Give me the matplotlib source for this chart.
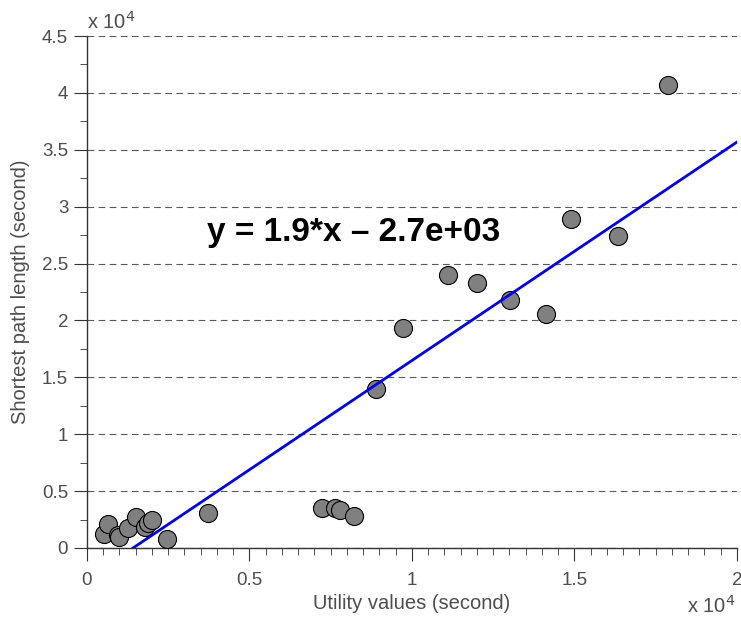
import matplotlib
matplotlib.use("Agg")
import matplotlib.pyplot as plt
import numpy as np
from matplotlib.ticker import MultipleLocator, FuncFormatter

plt.rcParams['font.family'] = ['Liberation Sans', 'DejaVu Sans']

# data (seconds)
utility = [520, 650, 950, 1000, 1270, 1520, 1790, 1880, 2000, 2460, 3720,
           7230, 7630, 7790, 8220, 8890, 9720, 11110, 12000, 13020, 14120,
           14890, 16340, 17880]
shortest = [1230, 2110, 1140, 960, 1760, 2720, 1850, 2200, 2460, 780, 3080,
            3520, 3520, 3340, 2810, 14000, 19340, 23990, 23290, 21800, 20570,
            28920, 27420, 40690]

slope = 1.92
intercept = -2717
eq_label = "y = 1.9*x \u2013 2.7e+03"

axc = '0.2'
txtc = '0.3'

fig = plt.figure(figsize=(7.41, 6.24), dpi=100)
ax = fig.add_axes([0.1174, 0.1218, 0.8772, 0.8205])

ax.scatter(utility, shortest, s=13**2, c='0.5', edgecolors='black', linewidths=0.8, zorder=3)

xl = np.array([-intercept / slope, 20000])
ax.plot(xl, slope * xl + intercept, color='#0000ee', lw=2, zorder=4)

ax.text(3700, 27700, eq_label, fontsize=24, fontweight='bold', va='center', ha='left')

ax.set_xlim(0, 20000)
ax.set_ylim(0, 45000)
ax.xaxis.set_major_locator(MultipleLocator(5000))
ax.xaxis.set_minor_locator(MultipleLocator(500))
ax.yaxis.set_major_locator(MultipleLocator(5000))
ax.yaxis.set_minor_locator(MultipleLocator(2500))
fmt = FuncFormatter(lambda v, p: ('%g' % (v / 1e4)))
ax.xaxis.set_major_formatter(fmt)
ax.yaxis.set_major_formatter(fmt)

ax.yaxis.grid(True, which='major', ls=(0, (6, 4)), color='0.35', lw=0.8)
ax.set_axisbelow(True)

for s in ['top', 'right']:
    ax.spines[s].set_visible(False)
for s in ['left', 'bottom']:
    ax.spines[s].set_color(axc)
    ax.spines[s].set_linewidth(1.0)

ax.tick_params(which='both', direction='out', colors=axc, labelsize=13.5, labelcolor=txtc)
ax.tick_params(which='major', length=9.5)
ax.tick_params(axis='x', which='major', pad=8)
ax.tick_params(axis='y', which='major', pad=4)
ax.tick_params(which='minor', length=5)

ax.set_xlabel("Utility values (second)", fontsize=14.5, color=txtc, labelpad=3.5)
ax.set_ylabel("Shortest path length (second)", fontsize=14.5, color=txtc, va='center')
ax.yaxis.set_label_coords((20 - 87) / 651, 0.5)

fig.text(87 / 741, 1 - 29 / 624, r"x 10$^4$", fontsize=14.5, color=txtc, ha='left', va='baseline')
fig.text(735 / 741, 1 - 613 / 624, r"x 10$^4$", fontsize=14.5, color=txtc, ha='right', va='baseline')

fig.savefig("out.png", dpi=100)
